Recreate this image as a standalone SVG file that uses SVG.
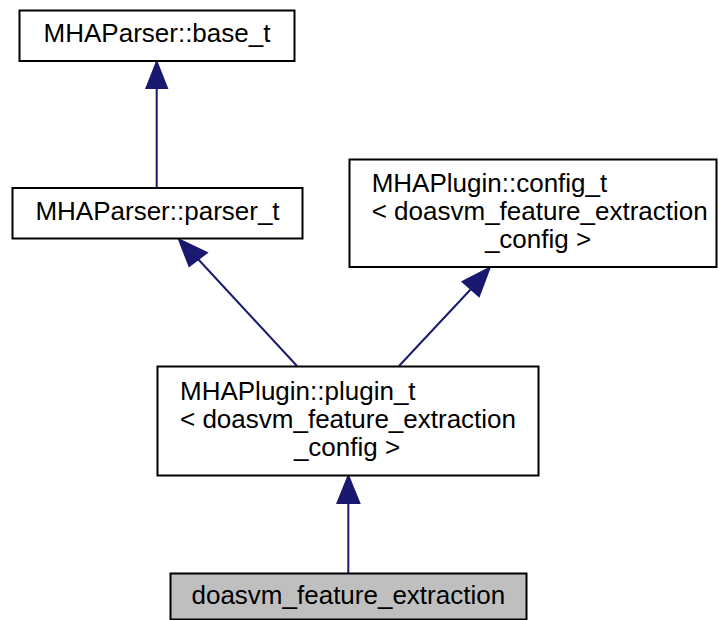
<svg xmlns="http://www.w3.org/2000/svg" width="719" height="620" viewBox="0 0 719 620">
<style>
.node rect{fill:#ffffff;stroke:#000000;stroke-width:2}
.node.cur rect{fill:#bfbfbf}
text{font-family:"Liberation Sans",Arial,Helvetica,sans-serif;font-size:26px;fill:#000000}
.mid{text-anchor:middle}
.edge line{stroke:#191970;stroke-width:2}
.edge polygon{fill:#191970;stroke:#191970;stroke-width:2}
</style>
<rect x="0" y="0" width="719" height="620" fill="#ffffff"/>
<g id="connectors">
<g class="edge">
<line x1="156.7" y1="187" x2="156.7" y2="88"/>
<polygon points="156.7,62 146.5,88 167,88"/>
</g>
<g class="edge">
<line x1="297" y1="366" x2="198" y2="259"/>
<polygon points="179,239.5 189.3,266 206.7,252.7"/>
</g>
<g class="edge">
<line x1="399" y1="366" x2="471" y2="289"/>
<polygon points="489.5,268 462.7,281.7 479,296"/>
</g>
<g class="edge">
<line x1="348.3" y1="573" x2="348.3" y2="503"/>
<polygon points="348.3,476 337.5,503 359.3,503"/>
</g>
</g>
<g id="base_t" class="node">
<rect x="19.5" y="10.5" width="275" height="50.5"/>
<text x="157" y="42" class="mid">MHAParser::base_t</text>
</g>
<g id="parser_t" class="node">
<rect x="12.5" y="188" width="290" height="50.5"/>
<text x="157.5" y="220" class="mid">MHAParser::parser_t</text>
</g>
<g id="config_t" class="node">
<rect x="349.5" y="159.5" width="367" height="107.5"/>
<text x="371.7" y="191.7">MHAPlugin::config_t</text>
<text x="371.7" y="220">&lt; doasvm_feature_extraction</text>
<text x="538" y="248.3" class="mid">_config &gt;</text>
</g>
<g id="plugin_t" class="node">
<rect x="157.5" y="366.5" width="381" height="109"/>
<text x="180" y="399.5">MHAPlugin::plugin_t</text>
<text x="180" y="427.7">&lt; doasvm_feature_extraction</text>
<text x="347" y="456" class="mid">_config &gt;</text>
</g>
<g id="doasvm_feature_extraction" class="node cur">
<rect x="170.5" y="573.5" width="356" height="46"/>
<text x="348.3" y="604" class="mid">doasvm_feature_extraction</text>
</g>
</svg>
